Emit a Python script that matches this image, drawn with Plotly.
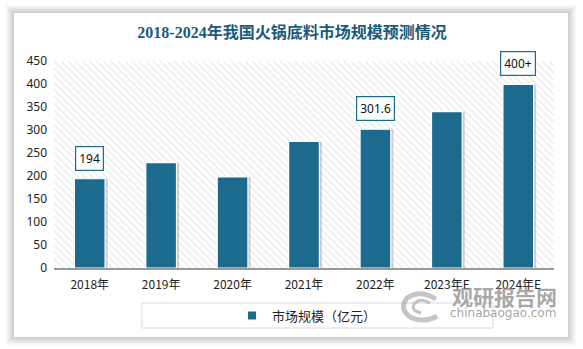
import plotly.graph_objects as go

categories = ["2018年", "2019年", "2020年", "2021年", "2022年", "2023年E", "2024年E"]
values = [194, 229, 198, 275, 301.6, 340, 399]
labels = ["194", "", "", "", "301.6", "", "400+"]
series_name = "市场规模（亿元）"
title_text = "2018-2024年我国火锅底料市场规模预测情况"

W, H = 583, 349
L, R, T, B = 54, 554, 61, 268  # plot area in pixels

def px(x):
    return (x - L) / (R - L)

def py(y):
    return (B - y) / (B - T)

BAR = "#1c6b8e"
BW = 0.43
fig = go.Figure()

# hatched background (base axis)
fig.add_trace(go.Bar(
    x=[0.5], y=[450], width=[1], xaxis="x", yaxis="y",
    marker=dict(color="white", line=dict(width=0),
                pattern=dict(shape="\\", fgcolor="#d4d4d4", bgcolor="white", size=5, solidity=0.25)),
    showlegend=False, hoverinfo="skip"))

# bar shadows
fig.add_trace(go.Bar(
    x=categories, y=values, xaxis="x2", yaxis="y", width=BW, offset=-BW / 2 + 0.035,
    marker=dict(color="rgba(0,0,0,0.18)", line=dict(width=0)),
    showlegend=False, hoverinfo="skip"))

# data bars
fig.add_trace(go.Bar(
    x=categories, y=values, xaxis="x2", yaxis="y", name=series_name,
    marker=dict(color=BAR, line=dict(color="white", width=1.2)),
    width=BW, offset=-BW / 2, showlegend=False))

# legend entry
fig.add_trace(go.Scatter(
    x=[None], y=[None], xaxis="x2", yaxis="y", name=series_name, mode="markers",
    marker=dict(symbol="square", size=8, color=BAR), showlegend=True))

shapes = []
# card shadow
for i in range(8, 0, -1):
    shapes.append(dict(type="rect", xref="paper", yref="paper",
                       x0=px(14 - i), x1=px(568 + i), y0=py(337 + i), y1=py(13 - i),
                       line=dict(width=0), fillcolor="rgba(0,0,0,0.022)", layer="below"))
shapes.append(dict(type="rect", xref="paper", yref="paper",
                   x0=px(14), x1=px(568), y0=py(337), y1=py(13),
                   line=dict(width=0), fillcolor="white", layer="below"))
# legend box
shapes.append(dict(type="rect", xref="paper", yref="paper",
                   x0=px(142), x1=px(493), y0=py(328), y1=py(303),
                   line=dict(color="#d9d9d9", width=1), fillcolor="rgba(0,0,0,0)"))
# watermark logo arcs
shapes.append(dict(type="path", xref="paper", yref="paper",
                   path=f"M {px(436)} {py(299)} Q {px(420)} {py(289)} {px(407)} {py(298)} Q {px(398)} {py(310)} {px(412)} {py(318)} Q {px(425)} {py(323)} {px(437)} {py(316)}",
                   line=dict(color="rgba(150,150,150,0.55)", width=5)))
shapes.append(dict(type="path", xref="paper", yref="paper",
                   path=f"M {px(430)} {py(303)} Q {px(420)} {py(297)} {px(414)} {py(304)} Q {px(411)} {py(311)} {px(421)} {py(313)}",
                   line=dict(color="rgba(150,150,150,0.55)", width=3)))

annotations = []
for c, v, t in zip(categories, values, labels):
    if t:
        annotations.append(dict(x=c, y=v, xref="x2", yref="y", text=t, showarrow=False,
                                yanchor="bottom", yshift=8,
                                font=dict(family="Noto Sans, Noto Sans CJK SC", size=12, color="#111"),
                                bgcolor="white", bordercolor=BAR, borderwidth=1.2, borderpad=3))
annotations.append(dict(x=px(504), y=py(296), xref="paper", yref="paper", text="<b>观研报告网</b>",
                        xanchor="center", yanchor="middle", showarrow=False,
                        font=dict(family="Noto Sans CJK SC", size=21, color="rgba(140,140,140,0.75)")))
annotations.append(dict(x=px(503), y=py(313), xref="paper", yref="paper", text="chinabaogao.com",
                        xanchor="center", yanchor="middle", showarrow=False,
                        font=dict(family="DejaVu Sans", size=12, color="rgba(140,140,140,0.8)")))

fig.update_layout(
    width=W, height=H,
    margin=dict(l=L, r=W - R, t=T, b=H - B),
    paper_bgcolor="white", plot_bgcolor="rgba(0,0,0,0)",
    title=dict(text="<b>" + title_text + "</b>", x=292 / W, xanchor="center", y=1 - 32 / H, yanchor="middle",
               font=dict(family="Liberation Serif, Noto Sans CJK SC", size=16, color="#1a5a7a")),
    barmode="overlay",
    xaxis=dict(range=[0, 1], visible=False, fixedrange=True),
    xaxis2=dict(overlaying="x", side="bottom", type="category",
                showline=True, linecolor="#999", linewidth=1.5, ticks="",
                tickfont=dict(family="Noto Sans CJK SC", size=12, color="#222"),
                ticklabelstandoff=5, showgrid=False, zeroline=False),
    yaxis=dict(range=[0, 450], dtick=50, showgrid=False, zeroline=False, showline=False,
               tickfont=dict(family="Noto Sans, Noto Sans CJK SC", size=12, color="#222"),
               ticklabelstandoff=6),
    legend=dict(orientation="h", x=px(232), xanchor="left", y=py(315.5), yanchor="middle",
                itemwidth=30,
                font=dict(family="Noto Sans CJK SC", size=13, color="#222"),
                bgcolor="rgba(0,0,0,0)"),
    shapes=shapes, annotations=annotations,
)

fig.write_html("out.html")
